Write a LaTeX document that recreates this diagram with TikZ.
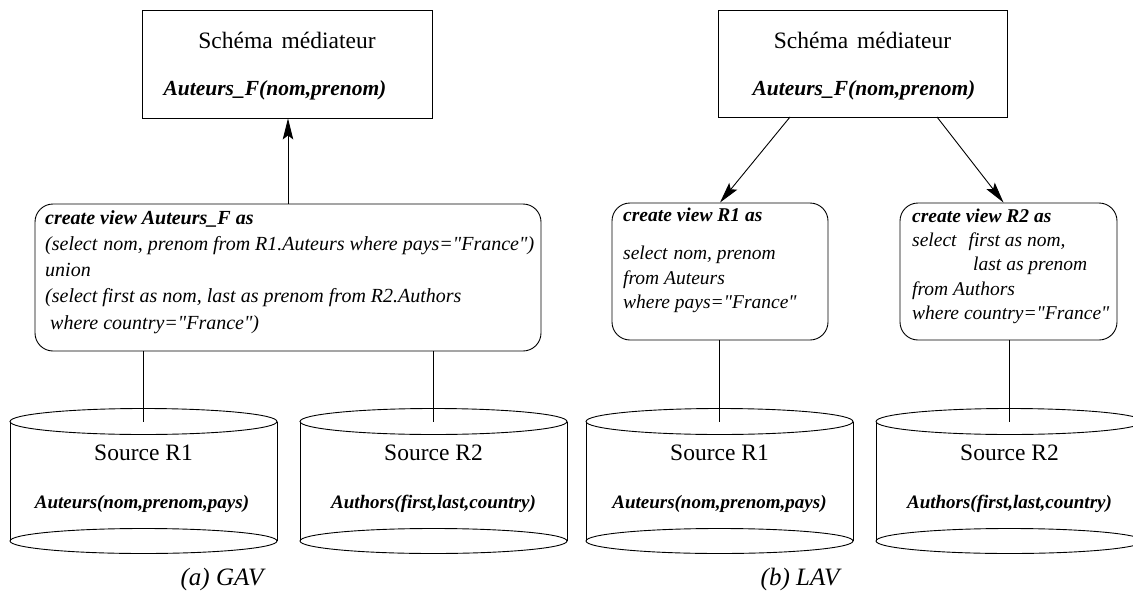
\documentclass[tikz,border=0pt]{standalone}
\usepackage{fontspec}
\setmainfont{Liberation Serif}[Ligatures=TeXOff]
\usetikzlibrary{arrows.meta}

% database cylinder: #1 name of the top centre, #2 centre x
\newcommand{\dbcylinder}[2]{%
  \coordinate (#1) at (#2,421.5);
  \draw[cyl] (#1) ellipse [x radius=133.5pt, y radius=13pt];
  \draw[cyl] (#1) +(-133.5,0) -- +(-133.5,119.5)
             (#1) +(133.5,0) -- +(133.5,119.5);
  \draw[cyl] (#1) +(0,119.5) ellipse [x radius=133.5pt, y radius=12.5pt];
}

\begin{document}
\begin{tikzpicture}[x=1pt,y=-1pt,
  frame/.style={draw, line width=0.9pt, inner sep=0pt},
  viewbox/.style={frame, rounded corners=18pt},
  cyl/.style={line width=0.9pt},
  link/.style={line width=0.9pt},
  arr/.style={link, -{Stealth[length=21pt,width=10.5pt,inset=4pt]}},
  title/.style={anchor=base, inner sep=0pt, font=\fontsize{23.5}{28}\selectfont},
  relbig/.style={anchor=base, inner sep=0pt, font=\fontsize{21.5}{26}\selectfont\bfseries\itshape},
  rel/.style={anchor=base, inner sep=0pt, font=\fontsize{19}{23}\selectfont\bfseries\itshape},
  gavcode/.style={anchor=base west, inner sep=0pt, font=\fontsize{20}{26.3}\selectfont\itshape},
  lavcode/.style={anchor=base west, inner sep=0pt, font=\fontsize{19.5}{24.4}\selectfont\itshape},
  caption/.style={anchor=base, inner sep=0pt, font=\fontsize{25}{30}\selectfont\itshape}]

\useasboundingbox (0,0) rectangle (1133,608);
\clip (0,0) rectangle (1133,608);

% ---------- (a) GAV ----------
\node[frame, minimum width=290pt, minimum height=108pt] (gmed) at (287,64) {};
\node[title] (gmedname) at (287,48) {Schéma\hspace{9pt}médiateur};
\node[relbig] (gmedrel) at (275,95) {Auteurs\_F(nom,prenom)};

\node[viewbox, minimum width=506pt, minimum height=147pt] (gview) at (288,277.5) {};
\node[gavcode] (gviewtext) at (45,224) {\begin{tabular}[t]{@{}l@{}}
  \bfseries create view Auteurs\_F as\\
  (select\hspace{6pt}nom, prenom from R1.Auteurs where pays="France")\\
  union\\
  (select first as nom, last as prenom from R2.Authors\\
  \hspace{5pt}where country="France")
\end{tabular}};

\dbcylinder{gsrcA}{143.5}
\dbcylinder{gsrcB}{433.5}
\node[title] (gsrcAname) at (143.5,460.5) {Source R1};
\node[rel] (gsrcArel) at (142,508) {Auteurs(nom,prenom,pays)};
\node[title] (gsrcBname) at (433.5,460.5) {Source R2};
\node[rel] (gsrcBrel) at (433.5,508) {Authors(first,last,country)};

\draw[arr] (gview.north) -- (gview.north |- gmed.south);
\draw[link] (gview.south -| gsrcA) -- (gsrcA);
\draw[link] (gview.south -| gsrcB) -- (gsrcB);

\node[caption] (gcap) at (222,585) {(a) GAV};

% ---------- (b) LAV ----------
\node[frame, minimum width=289pt, minimum height=107pt] (lmed) at (862.5,63.5) {};
\node[title] (lmedname) at (862.5,48) {Schéma\hspace{9pt}médiateur};
\node[relbig] (lmedrel) at (864,95) {Auteurs\_F(nom,prenom)};

\node[viewbox, minimum width=216pt, minimum height=137pt] (lviewA) at (720,271.5) {};
\node[lavcode] (lviewAtext) at (623,221.5) {\begin{tabular}[t]{@{}l@{}}
  \bfseries create view R1 as\\[13.9pt]
  select\hspace{6pt}nom, prenom\\
  from Auteurs\\
  where pays="France"
\end{tabular}};

\node[viewbox, minimum width=217pt, minimum height=137pt] (lviewB) at (1008.5,271.5) {};
\node[lavcode] (lviewBtext) at (912,222) {\begin{tabular}[t]{@{}l@{}}
  \bfseries create view R2 as\\
  select\hspace{12pt}first as nom,\\
  \hspace{61pt}last as prenom\\
  from Authors\\
  where country="France"
\end{tabular}};

\dbcylinder{lsrcA}{719.5}
\dbcylinder{lsrcB}{1009.5}
\node[title] (lsrcAname) at (719.5,460.5) {Source R1};
\node[rel] (lsrcArel) at (719.5,508) {Auteurs(nom,prenom,pays)};
\node[title] (lsrcBname) at (1009.5,460.5) {Source R2};
\node[rel] (lsrcBrel) at (1009.5,508) {Authors(first,last,country)};

\coordinate (lmedL) at (790,117);
\coordinate (lmedR) at (937,117);
\draw[arr] (lmedL) -- (lviewA.north);
\draw[arr] (lmedR) -- ([xshift=-5pt]lviewB.north);
\draw[link] (lviewA.south -| lsrcA) -- (lsrcA);
\draw[link] (lviewB.south -| lsrcB) -- (lsrcB);

\node[caption] (lcap) at (800,585) {(b) LAV};
\end{tikzpicture}
\end{document}
